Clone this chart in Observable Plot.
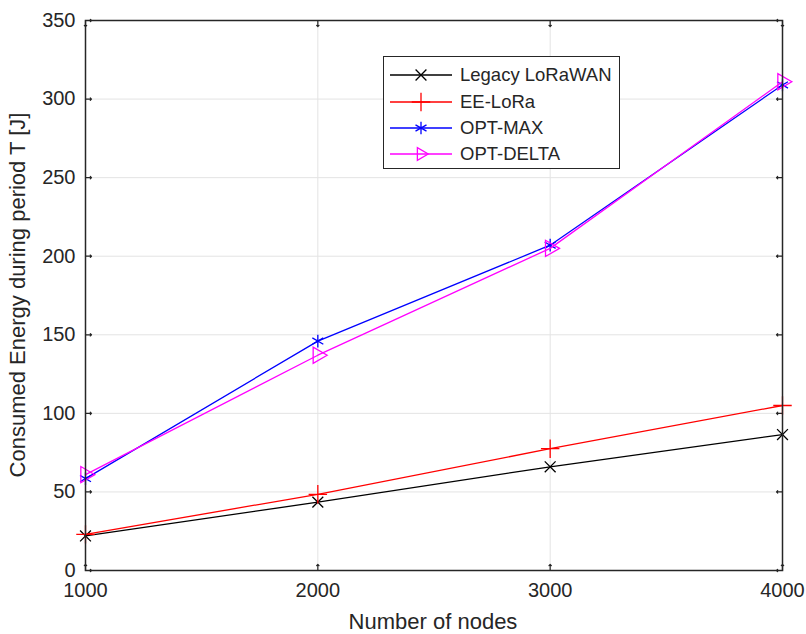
<!DOCTYPE html>
<html>
<head>
<meta charset="utf-8">
<script src="https://cdn.jsdelivr.net/npm/d3@7"></script>
<script src="https://cdn.jsdelivr.net/npm/@observablehq/plot@0.6"></script>
<style>
  html, body { margin: 0; padding: 0; background: #fff; }
  #wrap { position: relative; width: 806px; height: 634px; font-family: "Liberation Sans", Arial, sans-serif; }
  #legend { position: absolute; left: 383px; top: 56px; width: 237px; height: 113px; border: 1px solid #262626; background: #fff; box-sizing: border-box; }
  #legend .row { position: absolute; left: 0; height: 26px; display: flex; align-items: center; }
  #legend .row span { font-size: 18.5px; color: #262626; margin-left: 4px; }
</style>
</head>
<body>
<div id="wrap"></div>
<script>
const nodes = [1000, 2000, 3000, 4000];
const legacy = [22, 43.5, 66, 86.5];
const eeLora = [23, 48.5, 77.5, 105];
const optMax = [58.5, 146, 207, 309];
const optDelta = [61, 137, 205, 311];

const seriesNames = ["Legacy LoRaWAN", "EE-LoRa", "OPT-MAX", "OPT-DELTA"];
const seriesValues = [legacy, eeLora, optMax, optDelta];
const seriesColors = ["#000000", "#ff0000", "#0000ff", "#ff00ff"];
const seriesSymbols = ["times", "plus", "asterisk", "triangle"];
const seriesRotate = [0, 0, 0, 90];
const seriesR = [5, 6, 6, 6];

const xTicks = [1000, 2000, 3000, 4000];
const yTicks = [0, 50, 100, 150, 200, 250, 300, 350];

const axisColor = "#262626";

const marks = [
  Plot.gridX(xTicks, {stroke: "#e3e3e3", strokeOpacity: 1, strokeWidth: 1}),
  Plot.gridY(yTicks, {stroke: "#e3e3e3", strokeOpacity: 1, strokeWidth: 1}),
  Plot.axisX(xTicks, {tickSize: 0, tickPadding: 12, fontSize: 20, color: axisColor, label: null, tickFormat: d3.format("d")}),
  Plot.axisY(yTicks, {tickSize: 0, tickPadding: 10, fontSize: 20, color: axisColor, label: null, tickFormat: d3.format("d")}),
  Plot.vector(xTicks, {x: d => d, y: 0, length: 6, rotate: 0, anchor: "start", stroke: axisColor, strokeWidth: 1.2}),
  Plot.vector(xTicks, {x: d => d, y: 350, length: 6, rotate: 180, anchor: "start", stroke: axisColor, strokeWidth: 1.2}),
  Plot.vector(yTicks, {x: 1000, y: d => d, length: 6, rotate: 90, anchor: "start", stroke: axisColor, strokeWidth: 1.2}),
  Plot.vector(yTicks, {x: 4000, y: d => d, length: 6, rotate: 270, anchor: "start", stroke: axisColor, strokeWidth: 1.2}),
];

seriesValues.forEach((vals, i) => {
  const data = nodes.map((n, j) => ({x: n, y: vals[j]}));
  marks.push(Plot.line(data, {x: "x", y: "y", stroke: seriesColors[i], strokeWidth: 1.3}));
  marks.push(Plot.dot(data, {x: "x", y: "y", symbol: seriesSymbols[i], r: seriesR[i], stroke: seriesColors[i], fill: "none", strokeWidth: 1.3, rotate: seriesRotate[i]}));
});

marks.push(Plot.frame({stroke: axisColor, strokeWidth: 1.5}));

const chart = Plot.plot({
  width: 806,
  height: 634,
  marginLeft: 85,
  marginRight: 24,
  marginTop: 20,
  marginBottom: 64,
  style: {fontFamily: "Liberation Sans, Arial, sans-serif", background: "#fff", overflow: "visible"},
  x: {domain: [1000, 4000]},
  y: {domain: [0, 350]},
  marks
});

const wrap = document.getElementById("wrap");
wrap.appendChild(chart);

// axis titles
const svg = d3.select(chart);
svg.append("text")
  .attr("x", 433).attr("y", 629)
  .attr("text-anchor", "middle")
  .attr("font-size", 22).attr("fill", axisColor)
  .attr("font-family", "Liberation Sans, Arial, sans-serif")
  .text("Number of nodes");
svg.append("text")
  .attr("transform", "translate(25,295) rotate(-90)")
  .attr("text-anchor", "middle")
  .attr("font-size", 22).attr("fill", axisColor)
  .attr("font-family", "Liberation Sans, Arial, sans-serif")
  .text("Consumed Energy during period T [J]");

// legend
const legend = document.createElement("div");
legend.id = "legend";
const rowTops = [5, 32, 58, 84];
seriesNames.forEach((name, i) => {
  const row = document.createElement("div");
  row.className = "row";
  row.style.top = rowTops[i] + "px";
  const sw = d3.create("svg").attr("width", 72).attr("height", 26);
  sw.append("line").attr("x1", 6).attr("x2", 68).attr("y1", 13).attr("y2", 13)
    .attr("stroke", seriesColors[i]).attr("stroke-width", 1.3);
  const symMap = {times: d3.symbolTimes, plus: d3.symbolPlus, asterisk: d3.symbolAsterisk, triangle: d3.symbolTriangle2};
  const size = Math.PI * seriesR[i] * seriesR[i];
  sw.append("path")
    .attr("d", d3.symbol(symMap[seriesSymbols[i]], size)())
    .attr("transform", `translate(37,13) rotate(${seriesRotate[i]})`)
    .attr("fill", "none").attr("stroke", seriesColors[i]).attr("stroke-width", 1.3);
  row.appendChild(sw.node());
  const t = document.createElement("span");
  t.textContent = name;
  row.appendChild(t);
  legend.appendChild(row);
});
wrap.appendChild(legend);
</script>
</body>
</html>
